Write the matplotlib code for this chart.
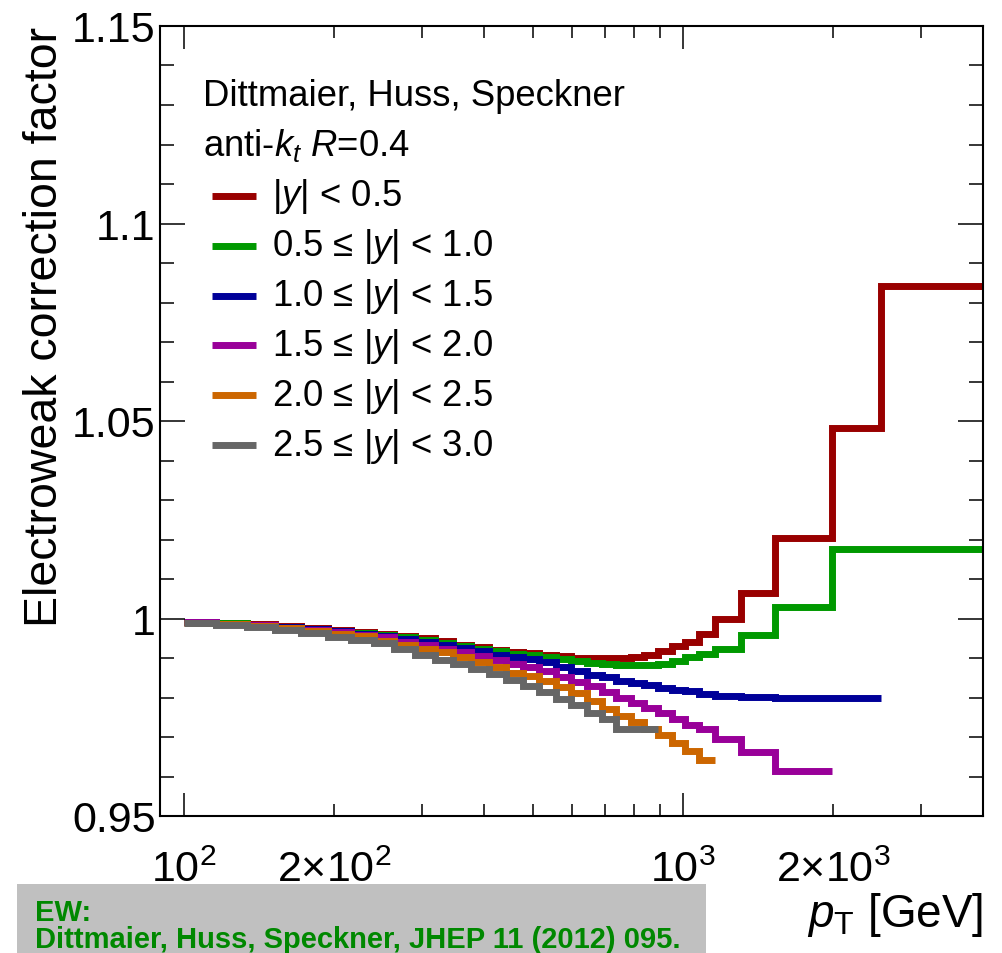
import numpy as np
import matplotlib.pyplot as plt
from matplotlib.ticker import FixedLocator, FuncFormatter
from matplotlib.lines import Line2D
from matplotlib.patches import Rectangle

plt.rcParams['font.family'] = ['Liberation Sans', 'DejaVu Sans']
plt.rcParams['mathtext.fontset'] = 'custom'
plt.rcParams['mathtext.rm'] = 'Liberation Sans'
plt.rcParams['mathtext.it'] = 'Liberation Sans:italic'
plt.rcParams['mathtext.bf'] = 'Liberation Sans:bold'

# pT bin edges [GeV]
edges = [100, 116, 134, 152, 172, 194, 216, 240, 264, 290, 318, 346, 376, 408,
         442, 478, 516, 556, 598, 642, 688, 736, 786, 838, 894, 952, 1012,
         1076, 1162, 1310, 1530, 1992, 2500, 4000]

# electroweak correction factor per bin, one array per rapidity slice
ew_y00_05 = [0.9990, 0.9988, 0.9985, 0.9980, 0.9975, 0.9970, 0.9965, 0.9960,
             0.9955, 0.9950, 0.9942, 0.9934, 0.9927, 0.9921, 0.9916, 0.9912,
             0.9908, 0.9905, 0.9901, 0.9900, 0.9900, 0.9901, 0.9903, 0.9908,
             0.9918, 0.9930, 0.9940, 0.9962, 0.9999, 1.0065, 1.0205, 1.0482,
             1.0843]
ew_y05_10 = [0.9990, 0.9988, 0.9984, 0.9979, 0.9974, 0.9969, 0.9963, 0.9958,
             0.9952, 0.9946, 0.9939, 0.9931, 0.9924, 0.9917, 0.9911, 0.9908,
             0.9903, 0.9897, 0.9892, 0.9887, 0.9885, 0.9882, 0.9882, 0.9882,
             0.9886, 0.9893, 0.9903, 0.9910, 0.9923, 0.9957, 1.0028, 1.0176,
             1.0176]
ew_y10_15 = [0.9990, 0.9987, 0.9983, 0.9978, 0.9973, 0.9968, 0.9962, 0.9956,
             0.9948, 0.9940, 0.9932, 0.9926, 0.9918, 0.9908, 0.9902, 0.9897,
             0.9889, 0.9876, 0.9868, 0.9857, 0.9851, 0.9843, 0.9837, 0.9832,
             0.9824, 0.9820, 0.9817, 0.9809, 0.9805, 0.9802, 0.9800, 0.9800]
ew_y15_20 = [0.9990, 0.9987, 0.9983, 0.9977, 0.9971, 0.9966, 0.9959, 0.9952,
             0.9941, 0.9932, 0.9922, 0.9914, 0.9906, 0.9895, 0.9884, 0.9878,
             0.9868, 0.9853, 0.9840, 0.9828, 0.9814, 0.9800, 0.9786, 0.9774,
             0.9760, 0.9746, 0.9730, 0.9720, 0.9695, 0.9662, 0.9614]
ew_y20_25 = [0.9988, 0.9985, 0.9980, 0.9975, 0.9969, 0.9960, 0.9955, 0.9944,
             0.9932, 0.9922, 0.9914, 0.9902, 0.9889, 0.9876, 0.9863, 0.9855,
             0.9843, 0.9826, 0.9812, 0.9791, 0.9771, 0.9754, 0.9738, 0.9720,
             0.9705, 0.9684, 0.9664, 0.9643]
ew_y25_30 = [0.9989, 0.9984, 0.9978, 0.9971, 0.9963, 0.9954, 0.9946, 0.9938,
             0.9922, 0.9908, 0.9896, 0.9884, 0.9872, 0.9859, 0.9844, 0.9830,
             0.9813, 0.9795, 0.9781, 0.9762, 0.9745, 0.9720, 0.9720, 0.9720]

series = [ew_y00_05, ew_y05_10, ew_y10_15, ew_y15_20, ew_y20_25, ew_y25_30]
labels = ['|$y$| < 0.5', '0.5 \u2264 |$y$| < 1.0', '1.0 \u2264 |$y$| < 1.5',
          '1.5 \u2264 |$y$| < 2.0', '2.0 \u2264 |$y$| < 2.5', '2.5 \u2264 |$y$| < 3.0']
colors = ['#990000', '#009900', '#000099', '#990099', '#cc6600', '#666666']

W, H = 1002, 954
fig = plt.figure(figsize=(W / 100, H / 100), dpi=100)
ax = fig.add_axes([160 / W, 1 - 817 / H, 823 / W, 790 / H])

for vals, col in zip(series, colors):
    st = ax.stairs(vals, edges[:len(vals) + 1], baseline=None, color=col, lw=5.0)
    st.set_joinstyle('miter')
    st.set_capstyle('butt')

ax.set_xscale('log')
ax.set_xlim(89.5, 4000)
ax.set_ylim(0.95, 1.15)

ax.xaxis.set_major_locator(FixedLocator([100, 1000]))
ax.xaxis.set_minor_locator(FixedLocator([200, 300, 400, 500, 600, 700, 800, 900,
                                         2000, 3000]))
ax.xaxis.set_major_formatter(FuncFormatter(
    lambda v, p: {100: r'$10^{2}$', 1000: r'$10^{3}$'}.get(int(round(v)), '')))
ax.xaxis.set_minor_formatter(FuncFormatter(
    lambda v, p: {200: r'$2{\times}10^{2}$', 2000: r'$2{\times}10^{3}$'}.get(int(round(v)), '')))
ax.yaxis.set_major_locator(FixedLocator([0.95, 1.0, 1.05, 1.1, 1.15]))
ax.yaxis.set_minor_locator(FixedLocator(np.arange(0.95, 1.1501, 0.01)))
ax.yaxis.set_major_formatter(FuncFormatter(lambda v, p: '%g' % round(v, 2)))

ax.tick_params(axis='both', which='both', direction='in', top=True, right=True,
               width=1.1, labelsize=31, colors='black')
ax.tick_params(axis='y', which='major', length=18, pad=3)
ax.tick_params(axis='y', which='minor', length=10)
ax.tick_params(axis='x', which='major', length=16.5, pad=24)
ax.tick_params(axis='x', which='minor', length=8.6, pad=24)
for sp in ax.spines.values():
    sp.set_linewidth(1.5)

fig.text(45 / W, 1 - 27 / H, 'Electroweak correction factor', rotation=90,
         ha='center', va='top', fontsize=33.5)
fig.text(983 / W, 1 - 915 / H, r'$p_{\mathrm{T}}$ [GeV]', ha='right',
         va='center', fontsize=33)

# header and legend
fig.text(203 / W, 1 - 97 / H, 'Dittmaier, Huss, Speckner', ha='left',
         va='center', fontsize=26.3)
fig.text(203 / W, 1 - 145 / H, r'anti-$k_{t}$ $R$=0.4', ha='left',
         va='center', fontsize=26.3)
for i, (lab, col) in enumerate(zip(labels, colors)):
    yy = 1 - (197 + 49.8 * i) / H
    fig.add_artist(Line2D([212 / W, 256 / W], [yy, yy], color=col, lw=5.0,
                          solid_capstyle='butt'))
    fig.text(272 / W, yy, lab, ha='left', va='center', fontsize=26.3)

# reference box
fig.add_artist(Rectangle((17 / W, 0), 689 / W, 1 - 885 / H,
                         transform=fig.transFigure, color='#c0c0c0', lw=0))
fig.text(35 / W, 1 - 921 / H, 'EW:', ha='left', va='baseline',
         fontsize=21, fontweight='bold', color='#008800')
fig.text(35 / W, 1 - 948 / H, 'Dittmaier, Huss, Speckner, JHEP 11 (2012) 095.',
         ha='left', va='baseline', fontsize=21, fontweight='bold', color='#008800')

fig.savefig('out.png', dpi=100)
